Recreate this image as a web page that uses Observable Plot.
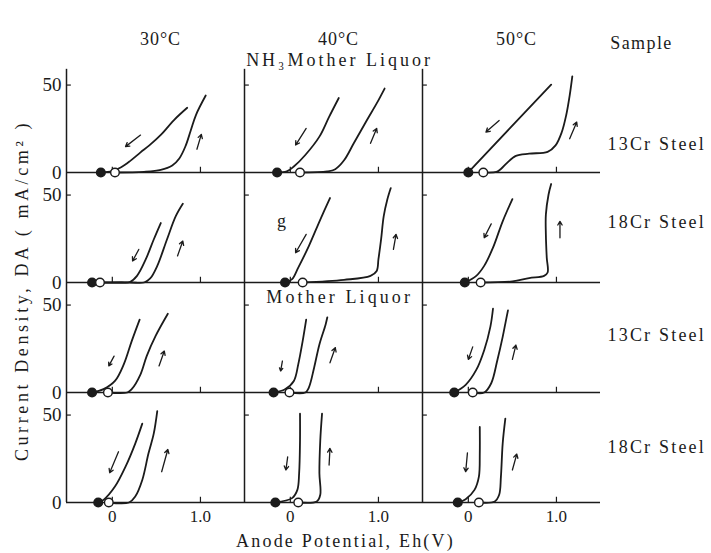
<!DOCTYPE html>
<html>
<head>
<meta charset="utf-8">
<script src="https://cdn.jsdelivr.net/npm/d3@7"></script>
<script src="https://cdn.jsdelivr.net/npm/@observablehq/plot@0.6"></script>
<style>
  html, body { margin: 0; padding: 0; background: #fff; }
</style>
</head>
<body>
<div id="chart"></div>
<script>
// Column (temperature) and row (sample) categories
const temps = ["30°C", "40°C", "50°C"];
const rows = ["r1", "r2", "r3", "r4"];
const sampleLabels = ["13Cr Steel", "18Cr Steel", "13Cr Steel", "18Cr Steel"];
const sampleLabelY = [16, 34.7, 33, 31.8];
const xTicks = [0, 1];
const xTickLabels = ["0", "1.0"];
const yTicks = [0, 50];

// Anodic (forward) scans: [potential V, current density mA/cm2], per temperature
const forwardRow1 = [
  [[0.03,0],[0.36,0.4],[0.55,1.5],[0.68,4],[0.76,8],[0.83,15],[0.89,24],[0.95,33],[1.06,44]],
  [[0.11,0],[0.42,0.6],[0.51,1.9],[0.61,7],[0.72,16.7],[0.87,30],[0.98,39.5],[1.07,48]],
  [[0.17,0],[0.32,0.3],[0.37,2],[0.44,5.5],[0.54,9.5],[0.69,10.8],[0.90,11.8],[0.99,15.5],[1.06,23],[1.11,32.6],[1.15,44],[1.18,55]]
];
const reverseRow1 = [
  [[0.85,37],[0.70,30],[0.55,21.5],[0.42,15.5],[0.32,11.5],[0.20,6.5],[0.10,3],[0.0,0.8],[-0.13,0]],
  [[0.55,42.6],[0.44,31.8],[0.33,20.5],[0.17,10],[0.04,3.4],[-0.04,0.6],[-0.15,0]],
  [[0.94,50.2],[0.01,0.6],[0,0]]
];
const forwardRow2 = [
  [[-0.14,0],[0.2,0],[0.36,0],[0.43,2.3],[0.51,9.5],[0.62,24.6],[0.72,37.9],[0.80,45]],
  [[0.14,0],[0.61,1.5],[0.91,3.8],[0.98,6.6],[1.00,13.3],[1.03,24.6],[1.06,37.9],[1.10,47.3],[1.14,54]],
  [[0.14,0],[0.50,0.6],[0.69,2.5],[0.86,3.8],[0.90,5.7],[0.89,14.2],[0.88,27.5],[0.88,38.8],[0.91,50.2],[0.94,56.3]]
];
const reverseRow2 = [
  [[0.55,34],[0.47,24.6],[0.38,13.3],[0.28,3.8],[0.20,0.3],[0.1,0],[-0.23,0]],
  [[0.45,48.3],[0.34,36],[0.21,20.8],[0.09,8.5],[0.02,1.9],[-0.06,0]],
  [[0.50,47.7],[0.39,35],[0.28,19.9],[0.18,9.5],[0.09,3.8],[-0.04,0]]
];
const forwardRow3 = [
  [[-0.05,0],[0.17,0],[0.22,1.9],[0.32,10.4],[0.39,20.8],[0.49,32.2],[0.63,45]],
  [[-0.01,0],[0.17,0],[0.21,2.8],[0.27,14.2],[0.33,27.5],[0.40,38.8],[0.42,43]],
  [[0.05,0],[0.18,0],[0.26,5.3],[0.33,18.6],[0.39,31.8],[0.42,39.4],[0.45,47]]
];
const reverseRow3 = [
  [[0.31,41.7],[0.22,29.4],[0.13,16.1],[0.03,6.6],[-0.10,1.9],[-0.23,0]],
  [[0.18,41.7],[0.14,29.4],[0.09,16.1],[0.04,6.6],[-0.06,1.9],[-0.19,0]],
  [[0.28,47.9],[0.25,37.5],[0.18,24.2],[0.09,12.9],[-0.03,4.4],[-0.16,0]]
];
const forwardRow4 = [
  [[-0.04,0],[0.19,0],[0.26,3.4],[0.34,12.9],[0.41,28],[0.47,39.4],[0.51,52.3]],
  [[0.09,0],[0.30,0.6],[0.34,4.4],[0.33,16.7],[0.34,35.6],[0.36,50.8]],
  [[0.12,0],[0.30,0.6],[0.35,4.4],[0.37,14.8],[0.39,33.7],[0.42,47.9]]
];
const reverseRow4 = [
  [[0.34,45.1],[0.26,33.7],[0.15,20.5],[0.03,9.1],[-0.10,1.5],[-0.16,0]],
  [[0.11,50.8],[0.11,35.6],[0.10,16.7],[0.08,7.2],[0.02,2.5],[-0.17,0]],
  [[0.13,43.2],[0.13,28],[0.12,14.8],[0.07,7.2],[-0.03,1.9],[-0.12,0]]
];

// Scan-direction arrows: [x1, y1, x2, y2] (reverse, forward) per temperature
const arrowsRow1 = [
  [[0.32,21.4,0.15,14.8],[0.96,13.3,1.01,21.8]],
  [[0.18,25.2,0.06,15.7],[0.91,16.7,0.98,25.2]],
  [[0.35,29.7,0.20,23.1],[1.15,19.3,1.23,28.8]]
];
const arrowsRow2 = [
  [[0.30,18.9,0.23,12.3],[0.74,15.2,0.80,23.7]],
  [[0.18,27.5,0.06,17],[1.17,18.9,1.20,27.5]],
  [[0.26,33.5,0.18,25.6],[1.04,25.6,1.04,35]]
];
const arrowsRow3 = [
  [[0.02,20.8,-0.04,15.2],[0.53,15.2,0.59,23.7]],
  [[-0.09,18,-0.11,12.3],[0.45,17,0.51,25.6]],
  [[0.05,26.1,0.0,18.9],[0.50,18.9,0.54,27.1]]
];
const arrowsRow4 = [
  [[0.07,29,-0.03,17],[0.56,17.6,0.63,30.3]],
  [[-0.03,26.1,-0.05,18.6],[0.44,21.4,0.45,30.9]],
  [[-0.01,28.4,-0.03,17.6],[0.50,18.6,0.55,27.7]]
];

// Build tables
const forwardRows = [forwardRow1, forwardRow2, forwardRow3, forwardRow4];
const reverseRows = [reverseRow1, reverseRow2, reverseRow3, reverseRow4];
const arrowRows = [arrowsRow1, arrowsRow2, arrowsRow3, arrowsRow4];
const curves = [], openDots = [], filledDots = [], arrows = [];
rows.forEach((row, i) => temps.forEach((temp, j) => {
  const f = forwardRows[i][j], r = reverseRows[i][j];
  f.forEach(([V, mA]) => curves.push({row, temp, key: row + temp + "f", V, mA}));
  r.forEach(([V, mA]) => curves.push({row, temp, key: row + temp + "r", V, mA}));
  openDots.push({row, temp, V: f[0][0], mA: f[0][1]});
  filledDots.push({row, temp, V: r[r.length - 1][0], mA: r[r.length - 1][1]});
  arrowRows[i][j].forEach(([x1, y1, x2, y2]) => arrows.push({row, temp, x1, y1, x2, y2}));
}));
const frameLines = rows.map((row, i) => ({row, top: i === 0 ? 59 : 62.9}));
const rowLabels = rows.map((row, i) => ({row, temp: "50°C", label: sampleLabels[i], y: sampleLabelY[i]}));

const ink = "#1b1b1b";
const font = "'Liberation Serif', 'DejaVu Serif', serif";

const chart = Plot.plot({
  width: 711, height: 553,
  marginLeft: 66, marginRight: 111, marginTop: 60, marginBottom: 50,
  style: {fontFamily: font, background: "white", color: ink},
  x: {domain: [-0.52, 1.5]},
  y: {domain: [0, 62.9]},
  fx: {domain: temps, padding: 0, axis: null},
  fy: {domain: rows, padding: 0, axis: null},
  marks: [
    Plot.ruleY([0], {stroke: ink, strokeWidth: 1.5}),
    Plot.ruleX(frameLines, {x: () => -0.52, y1: 0, y2: "top", fy: "row", stroke: ink, strokeWidth: 1.5}),
    // small inner tick marks at 50 mA/cm2 and at 0 / 1.0 V
    Plot.ruleY([50], {x1: () => -0.52, x2: () => -0.465, stroke: ink, strokeWidth: 1.2}),
    Plot.ruleX(xTicks, {y1: 0, y2: () => 3, stroke: ink, strokeWidth: 1.2}),
    Plot.axisY({ticks: yTicks, tickSize: 0, tickPadding: 5, fontSize: 19, label: null}),
    Plot.axisX({ticks: xTicks, tickSize: 0, tickPadding: 7, fontSize: 17, label: null,
                tickFormat: d => xTickLabels[xTicks.indexOf(d)]}),
    Plot.line(curves, {x: "V", y: "mA", z: "key", fx: "temp", fy: "row", curve: "catmull-rom",
                       stroke: ink, strokeWidth: 1.8}),
    Plot.arrow(arrows, {x1: "x1", y1: "y1", x2: "x2", y2: "y2", fx: "temp", fy: "row",
                        stroke: ink, strokeWidth: 1.3, headLength: 5}),
    Plot.dot(filledDots, {x: "V", y: "mA", fx: "temp", fy: "row", r: 4.3, fill: ink, stroke: ink}),
    Plot.dot(openDots, {x: "V", y: "mA", fx: "temp", fy: "row", r: 4.3, fill: "white", stroke: ink, strokeWidth: 1.4}),
    // Headers
    Plot.text(temps, {text: d => d, fx: d => d, fy: () => "r1", frameAnchor: "top", lineAnchor: "middle",
              dy: -23, dx: 5, fontSize: 18, fill: ink}),
    Plot.text(["NH₃Mother Liquor"], {text: d => d, fx: () => "40°C", fy: () => "r1", frameAnchor: "top",
              lineAnchor: "middle", dy: -2, dx: 6, fontSize: 18, fill: ink}),
    Plot.text(["Sample"], {text: d => d, fx: () => "50°C", fy: () => "r1", frameAnchor: "top-right",
              textAnchor: "middle", lineAnchor: "middle", dx: 41, dy: -19, fontSize: 18, fill: ink}),
    Plot.text(rowLabels, {text: "label", y: "y", fx: "temp", fy: "row", frameAnchor: "right", dx: 7,
              textAnchor: "start", fontSize: 18, fill: ink}),
    Plot.text(["Mother Liquor"], {text: d => d, x: () => 0.56, y: () => 54.2, fx: () => "40°C", fy: () => "r3",
              fontSize: 18, fill: ink}),
    Plot.text(["g"], {text: d => d, x: () => -0.10, y: () => 35, fx: () => "40°C", fy: () => "r2", fontSize: 18, fill: ink}),
    Plot.text(["Current Density, DA ( mA/cm² )"], {text: d => d, fx: () => "30°C", fy: () => "r3",
              frameAnchor: "top-left", textAnchor: "middle", lineAnchor: "middle",
              dx: -44, dy: 8, rotate: -90, fontSize: 18, fill: ink}),
    Plot.text(["Anode Potential, Eh(V)"], {text: d => d, fx: () => "40°C", fy: () => "r4", frameAnchor: "bottom",
              lineAnchor: "middle", dx: 12, dy: 39, fontSize: 18, fill: ink})
  ]
});

document.getElementById("chart").append(chart);

// Letter spacing similar to the typeset original
d3.select(chart).selectAll("text").each(function() {
  const t = this.textContent;
  let ls = null;
  if (t.includes("Current")) ls = "3.6px";
  else if (t.includes("Steel")) ls = "2.2px";
  else if (t.includes("NH")) ls = "3px";
  else if (t.includes("Mother")) ls = "3.1px";
  else if (t.includes("Anode")) ls = "2.2px";
  else if (t.includes("Sample")) ls = "1.4px";
  else if (t.includes("°C")) ls = "1px";
  if (ls) d3.select(this).attr("letter-spacing", ls);
});
</script>
</body>
</html>
